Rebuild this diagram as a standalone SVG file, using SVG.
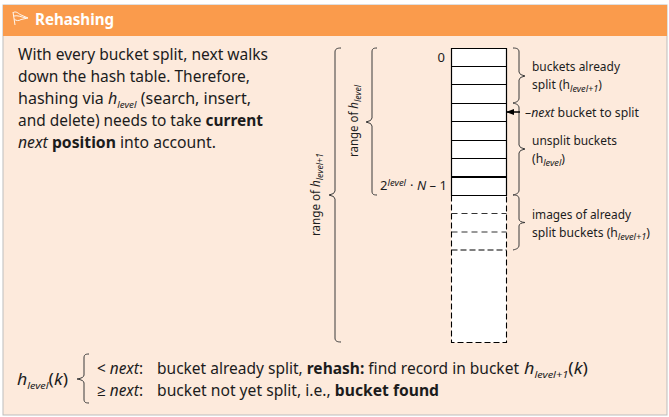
<svg xmlns="http://www.w3.org/2000/svg" width="669" height="417" viewBox="0 0 669 417">
<style>
text{font-family:"Noto Sans","Open Sans","Liberation Sans",sans-serif;fill:#1c1c1c}
.b{font-size:15.5px}
.s{font-size:12.5px}
.sub{font-size:9.5px;font-style:italic}
.i{font-style:italic}
.w{font-weight:700}
.brace{fill:none;stroke:#3a3a3a;stroke-width:1}
.sol{stroke:#000;stroke-width:1.2;fill:none}
.dash{stroke:#333;stroke-width:1.1;stroke-dasharray:6 4;fill:none}
.bd{stroke:#000;stroke-width:1.1;stroke-dasharray:6 3;fill:none}
</style>
<defs><marker id="ah" markerWidth="8" markerHeight="6" refX="7" refY="3" orient="auto" markerUnits="userSpaceOnUse"><path d="M0 0L8 3L0 6Z" fill="#000"/></marker></defs>
<rect width="669" height="417" fill="#fff"/>
<g id="panel">
<rect x="3" y="5" width="664" height="410" fill="#fdeadc" stroke="#bdbdbd" stroke-width="1"/>
<rect x="3" y="5" width="664" height="31" fill="#fa9b4c"/>
<path d="M13 12L15 25M13.300 12.500C16 11 18 13 20 14.500L28 18L21 19.500C19 21 16 21 14.300 19M14 16C18 15 21 17 26 18" fill="none" stroke="#fff" stroke-width="0.900"/>
<text x="35" y="25" font-size="16" font-weight="700" style="fill:#fff" textLength="79" lengthAdjust="spacingAndGlyphs">Rehashing</text>
</g>
<g id="description">
<text class="b" x="18" y="60" textLength="250" lengthAdjust="spacingAndGlyphs">With every bucket split, next walks</text>
<text class="b" x="18" y="82" textLength="232" lengthAdjust="spacingAndGlyphs">down the hash table. Therefore,</text>
<text class="b" x="18" y="104" textLength="233" lengthAdjust="spacingAndGlyphs"><tspan>hashing via </tspan><tspan class="i">h</tspan><tspan class="sub" dy="4">level</tspan><tspan dy="-4"> (search, insert,</tspan></text>
<text class="b" x="18" y="126" textLength="245" lengthAdjust="spacingAndGlyphs">and delete) needs to take <tspan class="w">current</tspan></text>
<text class="b" x="18" y="148" textLength="198" lengthAdjust="spacingAndGlyphs"><tspan class="i">next</tspan> <tspan class="w">position</tspan> into account.</text>
</g>
<g id="buckets">
<rect x="451.500" y="48.500" width="55" height="147" fill="#fff"/>
<rect x="451.500" y="195.500" width="55" height="147" fill="#fff"/>
<path class="sol" d="M451.500 48.500H506.500V195.500H451.500ZM451.500 66.500H506.500M451.500 84.500H506.500M451.500 103.500H506.500M451.500 121.500H506.500M451.500 140.500H506.500M451.500 158.500H506.500M451.500 195.500H506.500"/>
<path d="M451.500 177H506.500" stroke="#000" stroke-width="1.800" fill="none"/>
<path class="dash" d="M451.500 213.500H506.500M451.500 232H506.500"/>
<path class="bd" d="M451.500 250H506.500M451.500 195.500V342.500H506.500V195.500"/>
</g>
<g id="connectors">
<path class="brace" d="M341 48C337 48 335 49 335 52V191Q335 194 329 195Q335 196 335 199V338C335 341 337 342 341 342"/>
<path class="brace" d="M377 48C373 48 372 49 372 52V118Q372 121 366 122Q372 123 372 126V191C372 194 373 195 377 195"/>
<path class="brace" d="M513 48C517 48 519 49 519 52V72Q519 75 525 76Q519 77 519 80V98C519 101 517 102 513 103"/>
<path class="brace" d="M513 103C517 104 519 105 519 108V145Q519 148 525 149Q519 150 519 153V190C519 193 517 194 513 195"/>
<path class="brace" d="M513 195C517 195 519 196 519 199V219Q519 222 525 222.500Q519 223 519 226V245C519 248 517 249 513 250"/>
<path d="M520 112H507" stroke="#000" stroke-width="1.500" fill="none" marker-end="url(#ah)"/>
</g>
<g id="labels">
<text class="s" x="445" y="62" text-anchor="end" style="font-size:13px">0</text>
<text class="s" x="380" y="190" style="font-size:13px">2<tspan class="sub" dy="-4">level</tspan><tspan dy="4" x="410">·</tspan><tspan class="i" x="417">N</tspan><tspan> – 1</tspan></text>
<text class="s" transform="translate(358 157) rotate(-90)" textLength="72" lengthAdjust="spacingAndGlyphs">range of <tspan class="i">h</tspan><tspan class="sub" dy="3">level</tspan></text>
<text class="s" transform="translate(320 236) rotate(-90)" textLength="83" lengthAdjust="spacingAndGlyphs">range of <tspan class="i">h</tspan><tspan class="sub" dy="3">level+1</tspan></text>
<text class="s" x="532" y="71" textLength="88" lengthAdjust="spacingAndGlyphs">buckets already</text>
<text class="s" x="532" y="89" textLength="70" lengthAdjust="spacingAndGlyphs">split (h<tspan class="sub" dy="3">level+1</tspan><tspan dy="-3">)</tspan></text>
<text class="s" x="525" y="117" textLength="114" lengthAdjust="spacingAndGlyphs">–<tspan class="i">next</tspan> bucket to split</text>
<text class="s" x="532" y="145" textLength="85" lengthAdjust="spacingAndGlyphs">unsplit buckets</text>
<text class="s" x="532" y="163" textLength="33" lengthAdjust="spacingAndGlyphs">(h<tspan class="sub" dy="3">level</tspan><tspan dy="-3">)</tspan></text>
<text class="s" x="532" y="219" textLength="99" lengthAdjust="spacingAndGlyphs">images of already</text>
<text class="s" x="532" y="237" textLength="118" lengthAdjust="spacingAndGlyphs">split buckets (h<tspan class="sub" dy="3">level+1</tspan><tspan dy="-3">)</tspan></text>
</g>
<g id="formula">
<text class="b" x="17" y="385" textLength="51" lengthAdjust="spacingAndGlyphs"><tspan class="i">h</tspan><tspan class="sub" dy="4">level</tspan><tspan dy="-4">(</tspan><tspan class="i">k</tspan>)</text>
<path class="brace" d="M89 354C85 354 84 355 84 358V375Q84 378 77 379Q84 380 84 383V399C84 402 85 403 89 403"/>
<text class="b" x="97" y="374" textLength="46" lengthAdjust="spacingAndGlyphs">&lt; <tspan class="i">next</tspan>:</text>
<text class="b" x="157" y="374" textLength="362" lengthAdjust="spacingAndGlyphs">bucket already split, <tspan class="w">rehash:</tspan> find record in bucket</text>
<text class="b" x="524" y="374" textLength="64" lengthAdjust="spacingAndGlyphs"><tspan class="i">h</tspan><tspan class="sub" dy="4">level+1</tspan><tspan dy="-4">(</tspan><tspan class="i">k</tspan>)</text>
<text class="b" x="97" y="396" textLength="46" lengthAdjust="spacingAndGlyphs">≥ <tspan class="i">next</tspan>:</text>
<text class="b" x="157" y="396" textLength="282" lengthAdjust="spacingAndGlyphs">bucket not yet split, i.e., <tspan class="w">bucket found</tspan></text>
</g>
</svg>
